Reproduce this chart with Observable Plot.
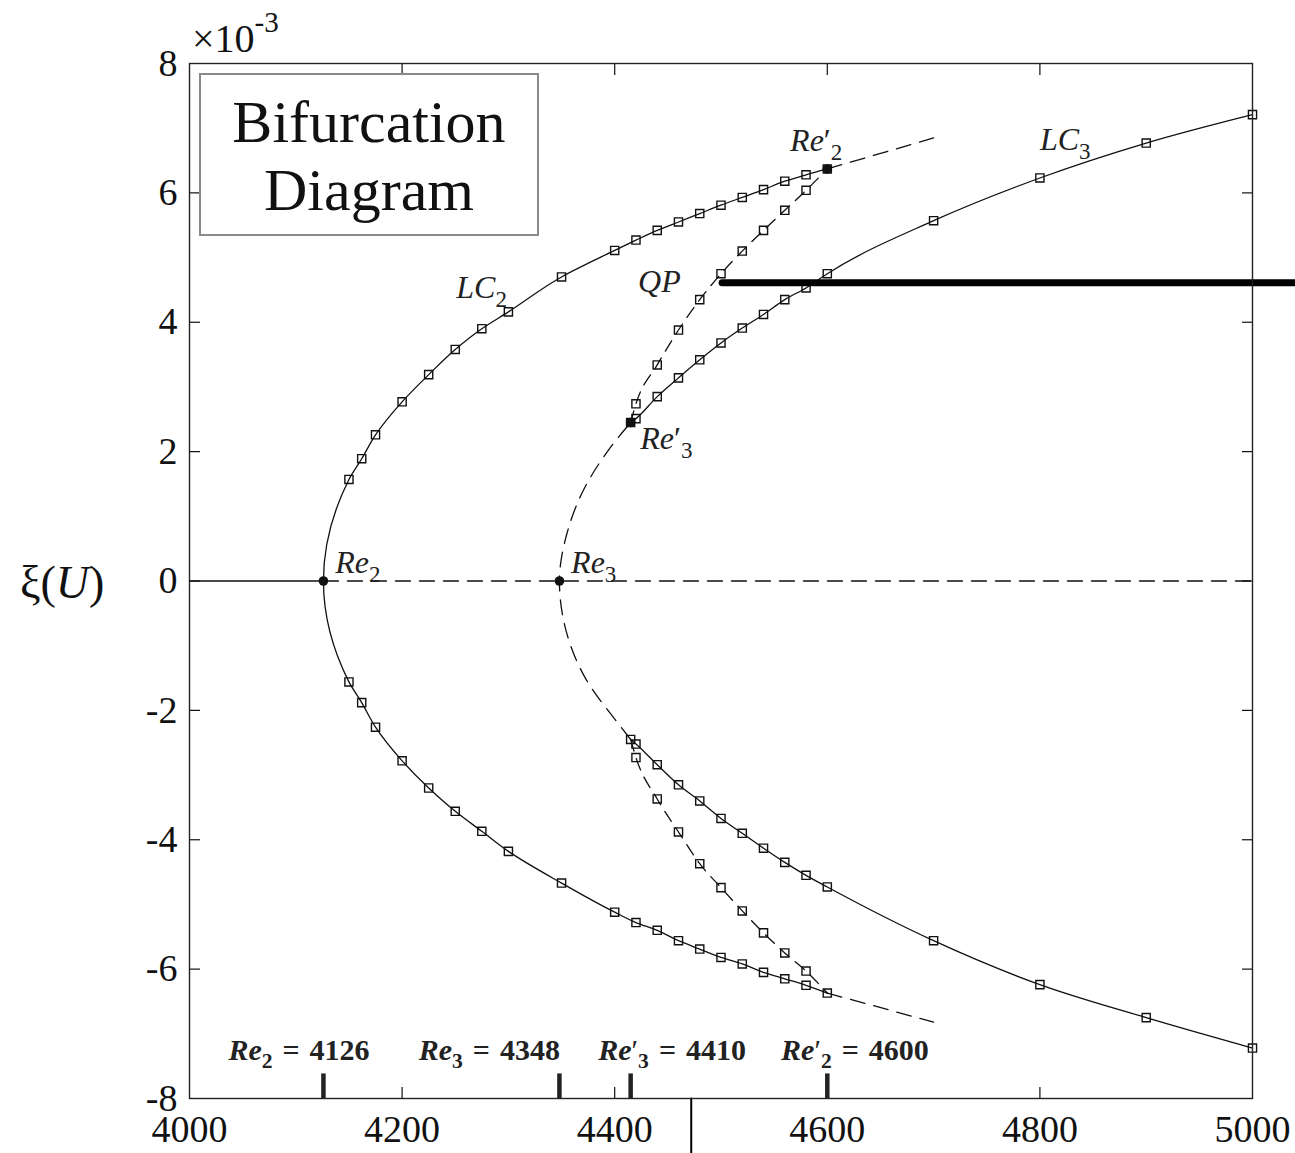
<!DOCTYPE html>
<html>
<head>
<meta charset="utf-8">
<script src="https://cdn.jsdelivr.net/npm/d3@7"></script>
<script src="https://cdn.jsdelivr.net/npm/@observablehq/plot@0.6"></script>
<style>
  body { margin: 0; background: #fff; }
  #chart { width: 1295px; height: 1153px; }
  #chart svg { display: block; }
</style>
</head>
<body>
<div id="chart"></div>
<script>
// ---------- Data (y in units of 1e-3) ----------
// LC2 branch (stable, solid with square markers)
const lc2X     = [4150, 4162, 4175, 4200, 4225, 4250, 4275, 4300, 4350, 4400, 4420, 4440, 4460, 4480, 4500, 4520, 4540, 4560, 4580, 4600];
const lc2Upper = [1.57, 1.89, 2.26, 2.77, 3.19, 3.58, 3.90, 4.16, 4.70, 5.11, 5.27, 5.42, 5.55, 5.68, 5.81, 5.93, 6.05, 6.18, 6.28, 6.37];
const lc2Lower = [-1.56, -1.88, -2.26, -2.78, -3.20, -3.56, -3.87, -4.18, -4.67, -5.12, -5.28, -5.40, -5.56, -5.69, -5.82, -5.92, -6.05, -6.15, -6.25, -6.37];
// LC2 continuation past Re2' (unstable, dashed)
const lc2ExtX     = [4600, 4700];
const lc2ExtUpper = [6.37, 6.85];
const lc2ExtLower = [-6.37, -6.82];

// LC3 branch (stable part, solid with square markers)
const lc3X     = [4415, 4420, 4440, 4460, 4480, 4500, 4520, 4540, 4560, 4580, 4600, 4700, 4800, 4900, 5000];
const lc3Upper = [2.45, 2.51, 2.85, 3.14, 3.42, 3.68, 3.91, 4.12, 4.35, 4.53, 4.75, 5.57, 6.23, 6.77, 7.21];
const lc3Lower = [-2.45, -2.52, -2.84, -3.15, -3.40, -3.67, -3.90, -4.13, -4.35, -4.55, -4.73, -5.56, -6.24, -6.75, -7.22];
// LC3 unstable part between Re3' (lower), Re3 and Re3' (upper), dashed
const lc3UnstX = [4415, 4406, 4372, 4359, 4348, 4355, 4372, 4394, 4415];
const lc3UnstY = [-2.45, -2.26, -1.49, -1.02, 0, 0.73, 1.45, 2.02, 2.45];

// QP branch (dashed with square markers) from Re3' to Re2'
const qpX     = [4415, 4420, 4440, 4460, 4480, 4500, 4520, 4540, 4560, 4580, 4600];
const qpUpper = [2.45, 2.74, 3.34, 3.88, 4.35, 4.75, 5.10, 5.42, 5.73, 6.04, 6.37];
const qpLower = [-2.45, -2.73, -3.37, -3.88, -4.37, -4.74, -5.10, -5.44, -5.75, -6.03, -6.37];

// Base state (xi = 0)
const eqSolidX = [4000, 4126];
const eqDashX  = [4126, 5000];
const eqY      = [0, 0];

// Bifurcation points
const bifName  = ["Re_2", "Re_3", "Re'_3", "Re'_2"];
const bifX     = [4126, 4348, 4415, 4600];
const bifY     = [0, 0, 2.45, 6.37];
const bifValue = ["4126", "4348", "4410", "4600"];
const bottomLabelX = [4103, 4282, 4454, 4626];
const bottomLabelY = -7.40;

// Curve labels
const curveLabel  = ["Re_2", "Re_3", "LC_2", "QP", "Re'_2", "LC_3", "Re'_3"];
const curveLabelX = [4137, 4359, 4251, 4422, 4565, 4800, 4424];
const curveLabelY = [0.13, 0.13, 4.37, 4.47, 6.65, 6.66, 2.04];

// Overlay strokes seen in the picture
const barX  = [4501, 5050];
const barY  = [4.61, 4.61];
const stemX = [4472, 4472];
const stemY = [-8, -9];

// Ticks
const xTickValues = [4000, 4200, 4400, 4600, 4800, 5000];
const yTickValues = [-8, -6, -4, -2, 0, 2, 4, 6, 8];
const xInnerTicks = [4200, 4400, 4600, 4800];
const yInnerTicks = [-6, -4, -2, 0, 2, 4, 6];

// ---------- Helpers ----------
const pts = (xs, ys) => xs.map((x, i) => ({x, y: ys[i]}));
const lc2Stable = [...pts(lc2X, lc2Lower).reverse(), {x: bifX[0], y: bifY[0]}, ...pts(lc2X, lc2Upper)];
const squares = [
  ...pts(lc2X, lc2Upper), ...pts(lc2X, lc2Lower),
  ...pts(lc3X, lc3Upper), ...pts(lc3X, lc3Lower),
  ...pts(qpX.slice(1, -1), qpUpper.slice(1, -1)), ...pts(qpX.slice(1, -1), qpLower.slice(1, -1))
];
const dash = "15,9";
const ink = "#111";
const lw = 1.3;

const plot = Plot.plot({
  width: 1295,
  height: 1153,
  marginLeft: 189,
  marginRight: 43,
  marginTop: 63,
  marginBottom: 55,
  x: {domain: [4000, 5000], label: null},
  y: {domain: [-8, 8], label: null},
  style: {fontFamily: "'Liberation Serif', 'Times New Roman', serif", background: "white", color: "#111"},
  marks: [
    // axes: labels
    Plot.axisX({ticks: xTickValues, tickSize: 0, tickPadding: 17, fontSize: 38, tickFormat: d => String(d), label: null}),
    Plot.axisY({ticks: yTickValues, tickSize: 0, tickPadding: 12, fontSize: 38, tickFormat: d => String(d), label: null}),
    // inward ticks
    Plot.axisX({anchor: "bottom", ticks: xInnerTicks, tickSize: -11, text: null, label: null, strokeWidth: 1.2}),
    Plot.axisX({anchor: "top", ticks: xInnerTicks, tickSize: -11, text: null, label: null, strokeWidth: 1.2}),
    Plot.axisY({anchor: "left", ticks: yInnerTicks, tickSize: -11, text: null, label: null, strokeWidth: 1.2}),
    Plot.axisY({anchor: "right", ticks: yInnerTicks, tickSize: -11, text: null, label: null, strokeWidth: 1.2}),

    // base state
    Plot.line(pts(eqSolidX, eqY), {x: "x", y: "y", stroke: ink, strokeWidth: lw}),
    Plot.line(pts(eqDashX, eqY), {x: "x", y: "y", stroke: ink, strokeWidth: lw, strokeDasharray: dash}),

    // LC2
    Plot.line(lc2Stable, {x: "x", y: "y", curve: "monotone-y", stroke: ink, strokeWidth: lw}),
    Plot.line(pts(lc2ExtX, lc2ExtUpper), {x: "x", y: "y", stroke: ink, strokeWidth: lw, strokeDasharray: dash}),
    Plot.line(pts(lc2ExtX, lc2ExtLower), {x: "x", y: "y", stroke: ink, strokeWidth: lw, strokeDasharray: dash}),

    // LC3
    Plot.line(pts(lc3UnstX, lc3UnstY), {x: "x", y: "y", curve: "monotone-y", stroke: ink, strokeWidth: lw, strokeDasharray: dash}),
    Plot.line(pts(lc3X, lc3Upper), {x: "x", y: "y", curve: "monotone-x", stroke: ink, strokeWidth: lw}),
    Plot.line(pts(lc3X, lc3Lower), {x: "x", y: "y", curve: "monotone-x", stroke: ink, strokeWidth: lw}),

    // QP
    Plot.line(pts(qpX, qpUpper), {x: "x", y: "y", curve: "monotone-x", stroke: ink, strokeWidth: lw, strokeDasharray: "12,8"}),
    Plot.line(pts(qpX, qpLower), {x: "x", y: "y", curve: "monotone-x", stroke: ink, strokeWidth: lw, strokeDasharray: "12,8"}),

    // markers
    Plot.dot(squares, {x: "x", y: "y", symbol: "square", r: 4.6, stroke: ink, strokeWidth: 1.4, fill: "none"}),
    Plot.dot(pts(bifX, bifY), {x: "x", y: "y", r: 4.8, fill: ink, stroke: "none"}),

    // bifurcation ticks on the bottom axis
    Plot.ruleX(bifX, {x: d => d, y1: -8, y2: -7.62, stroke: "#222", strokeWidth: 4.5}),

    // bottom labels
    Plot.text(bifName, {
      x: (d, i) => bottomLabelX[i], y: bottomLabelY,
      text: (d, i) => `${d}\u2004=\u2004${bifValue[i]}`,
      textAnchor: "middle", lineAnchor: "bottom",
      fontSize: 30, fontWeight: "bold", fill: "#222"
    }),

    // curve labels
    Plot.text(curveLabel, {
      x: (d, i) => curveLabelX[i], y: (d, i) => curveLabelY[i],
      text: d => d, textAnchor: "start", lineAnchor: "bottom",
      fontSize: 32, fill: "#222"
    }),

    // overlay strokes
    Plot.line(pts(barX, barY), {x: "x", y: "y", stroke: "#000", strokeWidth: 7}),
    Plot.line(pts(stemX, stemY), {x: "x", y: "y", stroke: "#000", strokeWidth: 2}),

    Plot.frame({stroke: "#222", strokeWidth: 1.4})
  ]
});

document.getElementById("chart").appendChild(plot);

// ---------- Math-style labels (italic with subscripts / primes) ----------
function mathify(el, fs) {
  const s = el.textContent;
  const m = s.match(/^([A-Za-z]+)('?)(?:_(\d))?(.*)$/);
  if (!m) return;
  const [, base, prime, sub, rest] = m;
  const t = d3.select(el);
  t.text(null);
  t.append("tspan").style("font-style", "italic").text(base);
  if (prime) t.append("tspan").style("font-style", "normal").attr("font-weight", "normal").text("\u2032");
  const shift = fs * 0.28;
  if (sub) {
    t.append("tspan")
      .attr("font-size", fs * 0.72)
      .attr("dy", shift)
      .style("font-style", "normal")
      .text(sub);
  }
  if (rest) t.append("tspan").attr("dy", sub ? -shift : 0).style("font-style", "normal").text(rest);
}
const svg = d3.select(plot);
svg.selectAll("text").each(function () {
  const s = this.textContent;
  if (/^(Re|LC|QP)/.test(s)) mathify(this, parseFloat(getComputedStyle(this).fontSize) || 30);
});

// ---------- Annotations: exponent, y label, title box ----------
const font = "'Liberation Serif', 'Times New Roman', serif";
const exp = svg.append("text").attr("x", 192).attr("y", 52).attr("text-anchor", "start")
  .attr("font-family", font).attr("font-size", 40).attr("fill", "#111");
exp.append("tspan").text("\u00d710");
exp.append("tspan").attr("font-size", 29).attr("dy", -20).text("-3");

const yl = svg.append("text").attr("x", 20).attr("y", 598).attr("text-anchor", "start")
  .attr("font-family", font).attr("font-size", 46).attr("fill", "#111");
yl.append("tspan").text("\u03be(");
yl.append("tspan").style("font-style", "italic").text("U");
yl.append("tspan").text(")");

const box = svg.append("g");
box.append("rect").attr("x", 200).attr("y", 74).attr("width", 338).attr("height", 161)
  .attr("fill", "white").attr("stroke", "#8a8a8a").attr("stroke-width", 2);
box.append("text").attr("x", 369).attr("y", 142).attr("text-anchor", "middle")
  .attr("font-family", font).attr("font-size", 60).attr("fill", "#111").text("Bifurcation");
box.append("text").attr("x", 369).attr("y", 210).attr("text-anchor", "middle")
  .attr("font-family", font).attr("font-size", 60).attr("fill", "#111").text("Diagram");
</script>
</body>
</html>
